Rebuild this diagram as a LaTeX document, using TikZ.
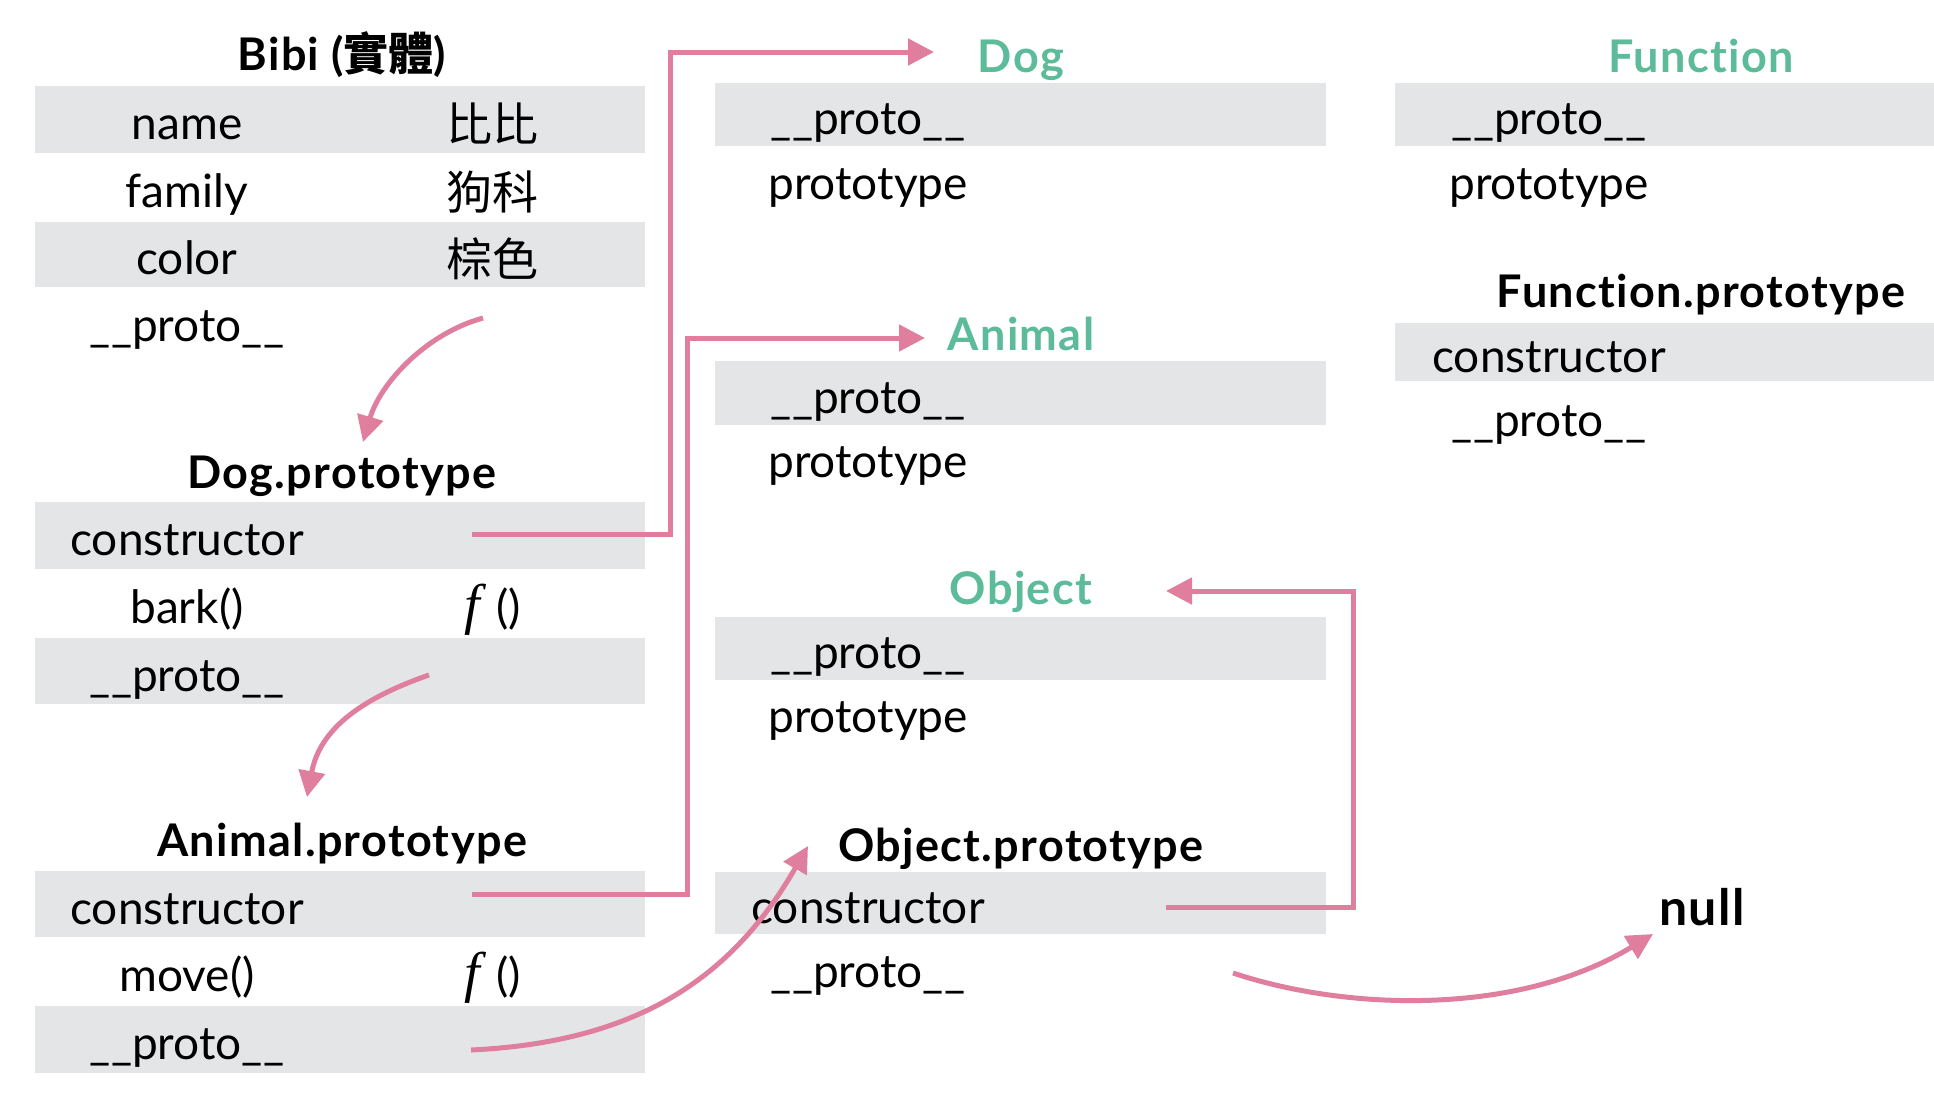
\documentclass[tikz,border=0pt]{standalone}
\usepackage{fontspec}
\setmainfont[Ligatures=NoCommon]{Lato}
\newfontfamily\titlefont[LetterSpace=3,Ligatures=NoCommon]{Lato}
\newfontfamily\cjkfont{Noto Sans CJK TC}
\newfontfamily\fnfont{Liberation Serif}
\usetikzlibrary{arrows.meta}
\definecolor{linkpink}{HTML}{E07E9E}
\definecolor{titlegreen}{HTML}{5CBB99}
\definecolor{bandgray}{HTML}{E4E5E7}
\begin{document}
\begin{tikzpicture}[x=1pt,y=-1pt,
  every node/.style={inner sep=0pt, outer sep=0pt},
  item/.style={font=\fontsize{46}{50}\selectfont, anchor=base},
  ttl/.style={font=\titlefont\fontsize{45}{50}\selectfont\bfseries, anchor=base},
  gttl/.style={ttl, text=titlegreen},
  band/.style={fill=bandgray},
  link/.style={draw=linkpink, line width=5pt, -{Triangle[length=26pt,width=26pt]}}]
\useasboundingbox[fill=white] (0,0) rectangle (1934,1100);

% ---------- bands ----------
\fill[band] (35,86) rectangle (645,153);
\fill[band] (35,222) rectangle (645,287);
\fill[band] (35,502) rectangle (645,569);
\fill[band] (35,638) rectangle (645,704);
\fill[band] (35,871) rectangle (645,937);
\fill[band] (35,1006) rectangle (645,1073);
\fill[band] (715,83) rectangle (1326,146);
\fill[band] (715,361) rectangle (1326,425);
\fill[band] (715,617) rectangle (1326,680);
\fill[band] (715,872) rectangle (1326,934);
\fill[band] (1395,83) rectangle (1934,146);
\fill[band] (1395,323) rectangle (1934,381);

% ---------- Bibi ----------
\node[ttl] (bibiT) at (342,70) {Bibi ({\cjkfont 實體})};
\node[item] (bName) at (187,139) {name};
\node[item] (bNameV) at (492,141) {\cjkfont 比比};
\node[item] (bFam) at (187,207) {family};
\node[item] (bFamV) at (492,209) {\cjkfont 狗科};
\node[item] (bCol) at (187,274) {color};
\node[item] (bColV) at (492,276) {\cjkfont 棕色};
\node[item] (bProto) at (187,341) {\_\_proto\_\_};

% ---------- Dog.prototype ----------
\node[ttl] (dpT) at (342,488) {Dog.prototype};
\node[item] (dpCtor) at (187,555) {constructor};
\node[item] (dpBark) at (187,623) {bark()};
\node[item] (dpBarkV) at (493,623) {{\fnfont\itshape\fontsize{56}{56}\selectfont f}\hspace{16pt}()};
\node[item] (dpProto) at (187,691) {\_\_proto\_\_};

% ---------- Animal.prototype ----------
\node[ttl] (apT) at (342,856) {Animal.prototype};
\node[item] (apCtor) at (187,924) {constructor};
\node[item] (apMove) at (187,991) {move()};
\node[item] (apMoveV) at (493,991) {{\fnfont\itshape\fontsize{56}{56}\selectfont f}\hspace{16pt}()};
\node[item] (apProto) at (187,1059) {\_\_proto\_\_};

% ---------- Dog ----------
\node[gttl] (dogT) at (1021,72) {Dog};
\node[item] (dogProto) at (868,134) {\_\_proto\_\_};
\node[item] (dogPt) at (868,199) {prototype};

% ---------- Animal ----------
\node[gttl] (aniT) at (1021,350) {Animal};
\node[item] (aniProto) at (868,413) {\_\_proto\_\_};
\node[item] (aniPt) at (868,477) {prototype};

% ---------- Object ----------
\node[gttl] (objT) at (1021,604) {Object};
\node[item] (objProto) at (868,668) {\_\_proto\_\_};
\node[item] (objPt) at (868,732) {prototype};

% ---------- Object.prototype ----------
\node[ttl] (opT) at (1021,861) {Object.prototype};
\node[item] (opCtor) at (868,923) {constructor};
\node[item] (opProto) at (868,987) {\_\_proto\_\_};

% ---------- Function ----------
\node[gttl] (fnT) at (1701,72) {Function};
\node[item] (fnProto) at (1549,134) {\_\_proto\_\_};
\node[item] (fnPt) at (1549,199) {prototype};

% ---------- Function.prototype ----------
\node[ttl] (fpT) at (1701,307) {Function.prototype};
\node[item] (fpCtor) at (1549,372) {constructor};
\node[item] (fpProto) at (1549,436) {\_\_proto\_\_};

% ---------- null ----------
\node[ttl, font=\titlefont\fontsize{50}{54}\selectfont\bfseries] (nullT) at (1702,925) {null};

% ---------- connector ends ----------
\coordinate (bProtoOut) at (483,318);
\coordinate (dpIn) at (363,442);
\coordinate (dpProtoOut) at (429,675);
\coordinate (apIn) at (307,797);
\coordinate (dpCtorOut) at (472,534);
\coordinate (railA) at (670,0);
\coordinate (dogIn) at (934,52);
\coordinate (apCtorOut) at (472,894);
\coordinate (railB) at (687,0);
\coordinate (aniIn) at (925,338);
\coordinate (opCtorOut) at (1166,907);
\coordinate (railC) at (1353,0);
\coordinate (objIn) at (1166,591);
\coordinate (apProtoOut) at (471,1050);
\coordinate (opIn) at (808,846);
\coordinate (opProtoOut) at (1233,973);
\coordinate (nullIn) at (1653,934);

% ---------- connectors ----------
\draw[link] (bProtoOut) .. controls (425,334) and (380,384) .. (dpIn);
\draw[link] (dpProtoOut) .. controls (363,698) and (320,728) .. (apIn);
\draw[link] (dpCtorOut) -- (dpCtorOut -| railA) -- (railA |- dogIn) -- (dogIn);
\draw[link] (apCtorOut) -- (apCtorOut -| railB) -- (railB |- aniIn) -- (aniIn);
\draw[link] (opCtorOut) -- (opCtorOut -| railC) -- (railC |- objIn) -- (objIn);
\draw[link] (apProtoOut) .. controls (640,1042) and (733,976) .. (opIn);
\draw[link] (opProtoOut) .. controls (1350,1012) and (1520,1015) .. (nullIn);
\end{tikzpicture}
\end{document}
